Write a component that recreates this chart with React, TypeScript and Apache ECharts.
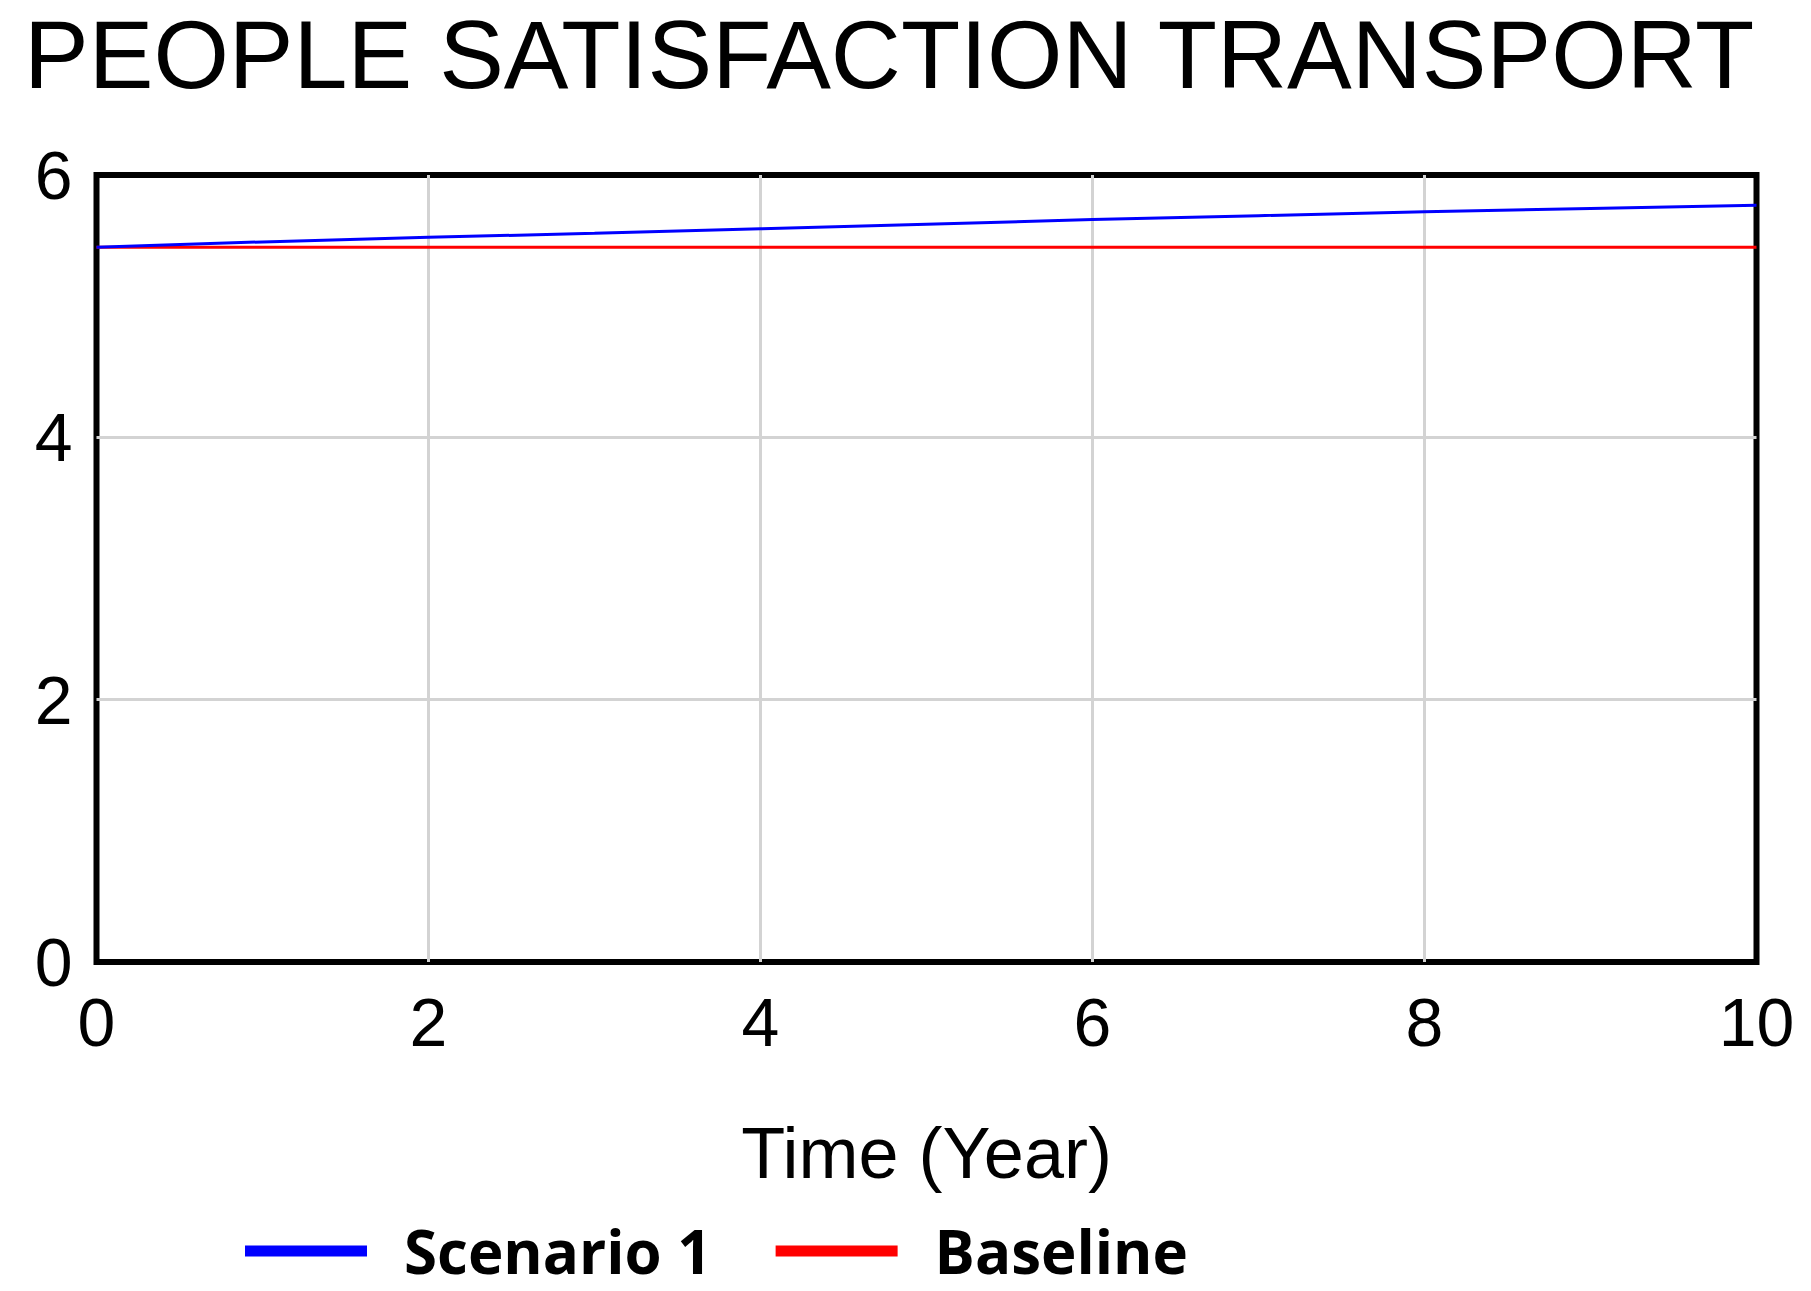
import React, { useEffect, useRef } from "react";
import * as echarts from "echarts";

const titleText = "PEOPLE SATISFACTION TRANSPORT";
const xAxisName = "Time (Year)";
const years = [0, 1, 2, 3, 4, 5, 6, 7, 8, 9, 10];
const scenario1 = [5.45, 5.49, 5.525, 5.555, 5.59, 5.625, 5.66, 5.69, 5.72, 5.745, 5.77];
const baseline = [5.45, 5.45, 5.45, 5.45, 5.45, 5.45, 5.45, 5.45, 5.45, 5.45, 5.45];
const seriesNames = ["Scenario 1", "Baseline"];
const seriesColors = ["#0000ff", "#ff0000"];

export default function App() {
  const ref = useRef<HTMLDivElement>(null);
  useEffect(() => {
    if (!ref.current) return;
    const chart = echarts.init(ref.current, undefined, { renderer: "svg" });
    const pairs = (vals: number[]) => years.map((y, i) => [y, vals[i]]);
    chart.setOption({
      animation: false,
      backgroundColor: "#ffffff",
      title: {
        text: titleText,
        left: 19,
        top: 1,
        textStyle: {
          fontFamily: "Liberation Sans, Arial, sans-serif",
          fontSize: 97,
          fontWeight: "normal",
          color: "#000",
          lineHeight: 97,
        },
      },
      grid: {
        left: 96.5,
        right: 54.5,
        top: 175,
        bottom: 329,
        show: true,
        borderColor: "#000",
        borderWidth: 6,
        backgroundColor: "#fff",
      },
      legend: {
        left: 240,
        top: 1216,
        itemWidth: 122,
        itemHeight: 11,
        itemGap: 64,
        icon: "rect",
        data: seriesNames,
        itemStyle: { borderWidth: 0 },
        textStyle: {
          fontFamily: "Open Sans, Noto Sans, sans-serif",
          fontWeight: "bold",
          fontSize: 60,
          lineHeight: 60,
          color: "#000",
          padding: [0, 0, 0, 32],
        },
      },
      xAxis: {
        type: "value",
        min: 0,
        max: 10,
        interval: 2,
        name: xAxisName,
        nameLocation: "middle",
        nameGap: 155,
        nameTextStyle: {
          fontFamily: "Liberation Sans, Arial, sans-serif",
          fontSize: 72,
          color: "#000",
        },
        axisLine: { show: false },
        axisTick: { show: false },
        axisLabel: {
          margin: 26,
          fontFamily: "Liberation Sans, Arial, sans-serif",
          fontSize: 68,
          color: "#000",
        },
        splitLine: {
          show: true,
          showMinLine: false,
          showMaxLine: false,
          lineStyle: { color: "#d3d3d3", width: 3 },
        },
      },
      yAxis: {
        type: "value",
        min: 0,
        max: 6,
        interval: 2,
        axisLine: { show: false },
        axisTick: { show: false },
        axisLabel: {
          margin: 24,
          fontFamily: "Liberation Sans, Arial, sans-serif",
          fontSize: 68,
          color: "#000",
          padding: [14, 0, 0, 0],
        },
        splitLine: {
          show: true,
          showMinLine: false,
          showMaxLine: false,
          lineStyle: { color: "#d3d3d3", width: 3 },
        },
      },
      series: [
        {
          name: seriesNames[0],
          type: "line",
          data: pairs(scenario1),
          showSymbol: false,
          symbol: "none",
          color: seriesColors[0],
          lineStyle: { color: seriesColors[0], width: 3 },
          z: 3,
        },
        {
          name: seriesNames[1],
          type: "line",
          data: pairs(baseline),
          showSymbol: false,
          symbol: "none",
          color: seriesColors[1],
          lineStyle: { color: seriesColors[1], width: 3 },
          z: 2,
        },
      ],
    });
    return () => chart.dispose();
  }, []);
  return (
    <div
      ref={ref}
      style={{ position: "fixed", left: 0, top: 0, width: 1811, height: 1291, background: "#fff" }}
    />
  );
}
